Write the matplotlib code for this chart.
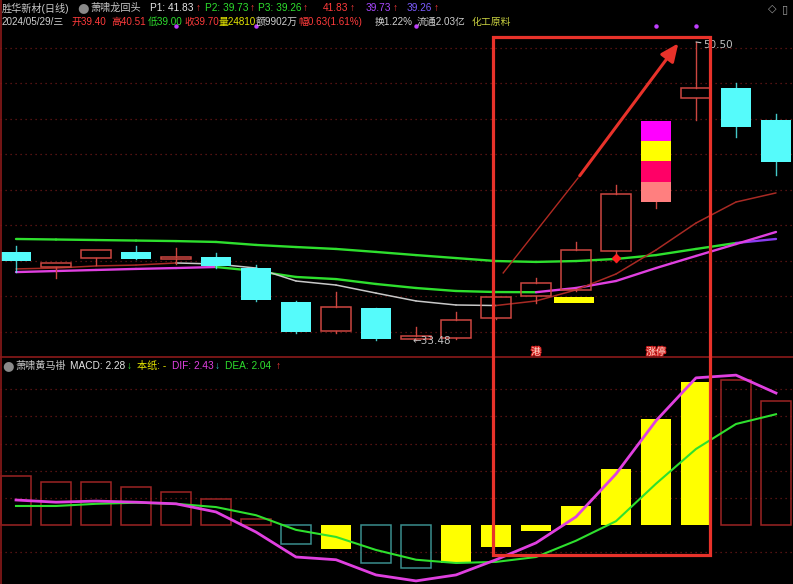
import numpy as np
import matplotlib
matplotlib.use('Agg')
import matplotlib.pyplot as plt
from matplotlib.patches import Rectangle, FancyArrowPatch
from matplotlib.collections import LineCollection
from matplotlib.lines import Line2D
import matplotlib.patheffects as pe

plt.rcParams['font.family'] = ['Noto Sans CJK SC', 'DejaVu Sans']

# ---------------- data ----------------
opens  = [38.51, 37.65, 38.16, 38.51, 38.11, 38.22, 37.59, 35.65, 33.99, 35.31,
          33.52, 33.59, 34.74, 35.99, 36.34, 38.56, 41.36, 47.30, 47.87, 46.04]
closes = [37.99, 37.88, 38.62, 38.11, 38.22, 37.71, 35.76, 33.94, 35.37, 33.55,
          33.70, 34.62, 35.94, 36.74, 38.62, 41.82, 46.00, 47.87, 45.64, 43.65]
highs  = [38.85, 37.90, 38.64, 38.85, 38.73, 38.45, 37.76, 35.68, 36.22, 35.33,
          34.22, 35.08, 35.96, 37.02, 39.08, 42.33, 46.02, 50.50, 48.16, 46.39]
lows   = [37.36, 37.02, 37.76, 38.08, 37.82, 37.59, 35.71, 33.88, 33.88, 33.50,
          33.48, 33.55, 34.70, 35.59, 36.30, 37.94, 41.02, 46.04, 45.07, 42.90]

ma_long  = [39.25, 39.22, 39.19, 39.16, 39.13, 39.08, 38.91, 38.79, 38.68, 38.51,
            38.33, 38.16, 37.99, 37.94, 37.99, 38.11, 38.33, 38.68, 39.02, 39.25]
ma_mid   = [37.36, 37.42, 37.48, 37.54, 37.59, 37.65, 37.42, 37.08, 36.96, 36.68,
            36.45, 36.28, 36.22, 36.21, 36.45, 36.85, 37.59, 38.28, 38.96, 39.65]
ma_short = [37.54, 37.59, 37.71, 37.76, 37.88, 37.82, 37.59, 36.85, 36.62, 36.16,
            35.71, 35.48, 35.45, 35.71, 36.34, 37.25, 38.62, 40.16, 41.36, 41.88]

macd_bar = [0.90, 0.79, 0.79, 0.70, 0.61, 0.48, 0.11, -0.35, -0.44, -0.70,
            -0.79, -0.70, -0.41, -0.11, 0.35, 1.03, 1.95, 2.63, 2.67, 2.28]
macd_state = ['r', 'r', 'r', 'r', 'r', 'r', 'r', 'c', 'y', 'c',
              'c', 'y', 'y', 'y', 'y', 'y', 'y', 'y', 'r', 'r']
dif = [0.46, 0.42, 0.44, 0.42, 0.39, 0.24, -0.13, -0.59, -0.64, -0.92,
       -1.03, -0.92, -0.64, -0.33, 0.15, 0.94, 1.92, 2.71, 2.76, 2.43]
dea = [0.35, 0.35, 0.39, 0.41, 0.39, 0.33, 0.18, -0.09, -0.22, -0.46,
       -0.64, -0.70, -0.68, -0.59, -0.29, 0.07, 0.76, 1.40, 1.86, 2.04]

limit_up_idx = [16]
signal_idx = [14]
signal_lo = [35.59]
signal_hi = [35.94]
diamond_idx = [15]
diamond_val = [38.16]
top_dot_idx = [4, 6, 10, 16, 17]
tag_idx = [13, 16]
tag_text = ['港', '涨停']
low_idx, low_val = 10, 33.48
high_idx, high_val = 17, 50.50

# ---------------- styles ----------------
BG = 'black'
RED_EDGE = '#cc4640'
CYAN = '#55fbfb'
GREEN = '#2ee02e'
MAGENTA = '#e040e0'
PURPLE = '#8a3cf0'
WHITE_MA = '#c8c8c8'
DARKRED_MA = '#a82a24'
GRID = '#6e1818'
ANNOT = '#e8322a'
W = 0.74
N = len(opens)
x = np.arange(N)

W_PX, H_PX = 793, 584
fig = plt.figure(figsize=(W_PX / 100, H_PX / 100), dpi=100, facecolor=BG)

SEP = 357
ax1 = fig.add_axes([0, 1 - SEP / H_PX, 1, (SEP - 20) / H_PX])
ax2 = fig.add_axes([0, 0, 1, 1 - SEP / H_PX])
for ax in (ax1, ax2):
    ax.set_facecolor(BG)
    ax.set_xticks([]); ax.set_yticks([])
    for s in ax.spines.values():
        s.set_visible(False)
    ax.set_xlim(-0.4, 19.425)

ax1.set_ylim(32.51, 51.755)
ax2.set_ylim(-1.087, 3.094)

# grid lines
for lv in np.arange(33.94, 51.0, 2.03):
    ax1.axhline(lv, color=GRID, lw=0.9, ls=(0, (1, 3)), zorder=0)
for lv in [-0.5, 0.5, 1.0, 1.5, 2.0, 2.5]:
    ax2.axhline(lv, color=GRID, lw=0.9, ls=(0, (1, 3)), zorder=0)

# ---------------- moving averages ----------------
def colored_line(ax, vals, cols, lw, z):
    pts = np.column_stack([x, vals])
    segs = [pts[i:i + 2] for i in range(len(vals) - 1)]
    ax.add_collection(LineCollection(segs, colors=cols, linewidths=lw, zorder=z,
                                     capstyle='round', joinstyle='round'))

cols_long = [PURPLE if i >= 18 else GREEN for i in range(N - 1)]
colored_line(ax1, ma_long, cols_long, 1.7, 2)
cols_mid = [MAGENTA if ma_mid[i + 1] > ma_mid[i] else GREEN for i in range(N - 1)]
colored_line(ax1, ma_mid, cols_mid, 1.7, 2)
cols_short = [DARKRED_MA if ma_short[i + 1] > ma_short[i] else WHITE_MA for i in range(N - 1)]
colored_line(ax1, ma_short, cols_short, 1.1, 2)

# ---------------- candles ----------------
stack_cols = ['#ff7f7f', '#ff0066', '#ffff00', '#ff00ff']
for i in range(N):
    o, c, h, l = opens[i], closes[i], highs[i], lows[i]
    lo_b, hi_b = min(o, c), max(o, c)
    if i in limit_up_idx:
        ax1.plot([i, i], [l, lo_b], color=RED_EDGE, lw=1.0, zorder=3)
        step = (hi_b - lo_b) / 4
        for k in range(4):
            ax1.add_patch(Rectangle((i - W / 2, lo_b + k * step), W, step,
                                    facecolor=stack_cols[k], edgecolor='none', zorder=4))
        continue
    if c >= o:
        ax1.plot([i, i], [hi_b, h], color=RED_EDGE, lw=1.0, zorder=3)
        ax1.plot([i, i], [l, lo_b], color=RED_EDGE, lw=1.0, zorder=3)
        ax1.add_patch(Rectangle((i - W / 2, lo_b), W, max(hi_b - lo_b, 0.04),
                                facecolor='none', edgecolor=RED_EDGE, lw=1.1, zorder=4))
    else:
        ax1.plot([i, i], [l, h], color=CYAN, lw=1.0, zorder=3, alpha=0.8)
        ax1.add_patch(Rectangle((i - W / 2, lo_b), W, hi_b - lo_b,
                                facecolor=CYAN, edgecolor='none', zorder=4))

# yellow signal bar
for i, lo, hi in zip(signal_idx, signal_lo, signal_hi):
    ax1.add_patch(Rectangle((i - 0.55, lo), 1.0, hi - lo, facecolor='#ffff00',
                            edgecolor='none', zorder=5))
# red diamond
ax1.plot(diamond_idx, diamond_val, marker='D', ms=4, color='#ff2020', ls='none', zorder=6)
# top dots
ax1.plot(top_dot_idx, [51.41] * len(top_dot_idx), 'o', ms=2.2, color='#c040ff', zorder=6)

# low / high labels
ax1.annotate('←33.48', xy=(low_idx, low_val), xytext=(-2.5, -0.5), textcoords='offset points',
             ha='left', va='center', color='#c0c0c0', fontsize=7.5,
             family=['DejaVu Sans'], zorder=7)
ax1.annotate('50.50', xy=(high_idx, high_val), xytext=(5.5, -2.5), textcoords='offset points',
             ha='left', va='center', color='#c0c0c0', fontsize=7.5, family=['DejaVu Sans'],
             arrowprops=dict(arrowstyle='-', color='#c0c0c0', lw=0.8,
                             shrinkA=0, shrinkB=0), zorder=7)

# tags near bottom of price panel
for i, t in zip(tag_idx, tag_text):
    ax1.text(i, 32.8, t, ha='center', va='center', fontsize=7, color='#ffe0d0',
             path_effects=[pe.withStroke(linewidth=1.6, foreground='#d02020')], zorder=7)

# ---------------- MACD ----------------
for i in range(N):
    v = macd_bar[i]
    st = macd_state[i]
    if st == 'y':
        ax2.add_patch(Rectangle((i - W / 2, 0), W, v, facecolor='#ffff00',
                                edgecolor='none', zorder=3))
    else:
        ec = '#9c2424' if st == 'r' else '#3a8e8e'
        ax2.add_patch(Rectangle((i - W / 2, 0), W, v, facecolor='none',
                                edgecolor=ec, lw=1.1, zorder=3))
ax2.plot(x, dea, color=GREEN, lw=1.5, zorder=4)
ax2.plot(x, dif, color=MAGENTA, lw=2.0, zorder=5)

# ---------------- annotation overlays ----------------
def to_fig(ax, px, py):
    d = ax.transData.transform((px, py))
    return fig.transFigure.inverted().transform(d)

tl = to_fig(ax1, 11.925, 50.78)
br = to_fig(ax2, 17.35, -0.553)
fig.add_artist(Rectangle((tl[0], br[1]), br[0] - tl[0], tl[1] - br[1],
                         transform=fig.transFigure, facecolor='none',
                         edgecolor=ANNOT, lw=2.3, zorder=20))

ax1.plot([12.18, 14.05], [37.31, 42.73], color='#b02a22', lw=1.0, zorder=8)
arr = FancyArrowPatch((14.05, 42.73), (16.6, 50.55), arrowstyle='-|>,head_length=0.9,head_width=0.4',
                      mutation_scale=12, color=ANNOT, lw=2.2, zorder=9)
ax1.add_patch(arr)

# borders
fig.add_artist(Line2D([0.5 / W_PX] * 2, [0, 1], transform=fig.transFigure,
                      color='#8b1a1a', lw=1.2))
fig.add_artist(Line2D([0, 1], [1 - SEP / H_PX] * 2, transform=fig.transFigure,
                      color='#8b1a1a', lw=1.2))

# ---------------- header texts ----------------
HFAM = ['Liberation Sans', 'Noto Sans CJK SC', 'DejaVu Sans']

def put(xp, yp, s, col, size=7.3, fam=HFAM):
    fig.text(xp / W_PX, 1 - yp / H_PX, s, color=col, fontsize=size,
             ha='left', va='center', family=fam)

RED_T = '#ff3b3b'
GRN_T = '#2ee02e'
WHT_T = '#d0d0d0'
line1 = [(2, '胜华新材(日线)', '#c8c8c8'),
         (90, '萧啸龙回头', '#c8c8c8'),
         (150, 'P1: 41.83', '#e6e6e6'), (196, '↑', RED_T),
         (205, 'P2: 39.73', GRN_T), (250, '↑', RED_T),
         (258, 'P3: 39.26', GRN_T), (303, '↑', RED_T),
         (323, '41.83', RED_T), (350, '↑', RED_T),
         (366, '39.73', '#a848ff'), (393, '↑', RED_T),
         (407, '39.26', '#7c5cff'), (434, '↑', RED_T)]
for xp, s, c in line1:
    put(xp, 8, s, c)
put(77, 8, '●', '#8a8a8a', 9.5, ['DejaVu Sans'])
line2 = [(2, '2024/05/29/三', WHT_T), (72, '开39.40', RED_T), (111, '高40.51', RED_T),
         (148, '低39.00', GRN_T), (184, '收39.70', RED_T), (219, '量24810', '#e6e600'),
         (256, '额9902万', WHT_T), (298, '幅0.63(1.61%)', RED_T), (375, '换1.22%', WHT_T),
         (417, '流通2.03亿', WHT_T), (472, '化工原料', '#c8d040')]
for xp, s, c in line2:
    put(xp, 22, s, c, 7.1)
put(768, 9, '◇', '#9a9a9a', 8, ['DejaVu Sans'])
put(782, 9, '▯', '#9a9a9a', 8, ['DejaVu Sans'])

line3 = [(15, '萧啸黄马褂', '#c8c8c8'), (70, 'MACD: 2.28', '#e6e6e6'),
         (127, '↓', GRN_T), (137, '本纸: -', '#e6e600'), (172, 'DIF: 2.43', MAGENTA),
         (215, '↓', '#30c0c0'), (225, 'DEA: 2.04', GRN_T), (276, '↑', RED_T)]
for xp, s, c in line3:
    put(xp, 366, s, c)
put(2, 366, '●', '#8a8a8a', 9.5, ['DejaVu Sans'])

fig.savefig('out.png', dpi=100, facecolor=BG)
